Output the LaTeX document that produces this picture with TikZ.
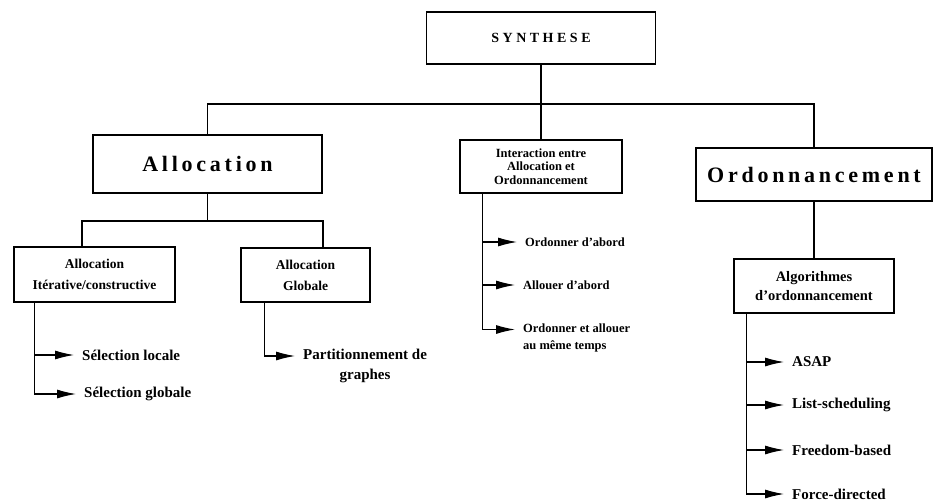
\documentclass[tikz,border=0pt]{standalone}
\usepackage{fontspec}
\setmainfont{Liberation Serif}
\newfontfamily\spacedfont[LetterSpace=17]{Liberation Serif}
\newfontfamily\widefont[LetterSpace=25]{Liberation Serif}
\usetikzlibrary{arrows.meta,positioning}
\tikzset{
  box/.style     ={draw,line width=1.1pt,align=center,inner sep=2pt,
                   font=\bfseries\fontsize{13.5}{21}\selectfont},
  titlebox/.style={box,font=\spacedfont\bfseries\fontsize{22}{24}\selectfont},
  leaf/.style    ={anchor=west,inner sep=0pt,align=left,
                   font=\bfseries\fontsize{15}{20}\selectfont},
  smleaf/.style  ={leaf,font=\bfseries\fontsize{12.5}{17}\selectfont},
  link/.style    ={line width=1.1pt},
  arr/.style     ={link,-{Latex[length=19pt,width=9pt]},shorten >=8pt},
}

\begin{document}
\begin{tikzpicture}[x=1pt,y=-1pt]
\useasboundingbox (0,0) rectangle (936,503);
% top level
\node[titlebox,minimum width=229,minimum height=52,
      font=\widefont\bfseries\fontsize{14}{16}\selectfont] (syn) at (541,38) {SYNTHESE};
\node[titlebox,minimum width=229,minimum height=58] (alloc) at (207.5,164) {Allocation};
\node[box,minimum width=162,minimum height=53,
      font=\bfseries\fontsize{12.5}{13.5}\selectfont] (inter) at (541,166.5)
  {Interaction entre\\Allocation et\\Ordonnancement};
\node[titlebox,minimum width=236,minimum height=53] (ordo) at (814,174.5) {Ordonnancement};
% second level
\node[box,minimum width=161,minimum height=55] (iter) at (94.5,274.5)
  {Allocation\\Itérative/constructive};
\node[box,minimum width=129,minimum height=54] (glob) at (305.5,275)
  {Allocation\\Globale};
\node[box,minimum width=160,minimum height=54,
      font=\bfseries\fontsize{14.5}{19}\selectfont] (algo) at (814,286)
  {Algorithmes\\d'ordonnancement};
% leaves
\node[leaf] (sl) at (82,355) {Sélection locale};
\node[leaf] (sg) at (84,394) {Sélection globale};
\node[leaf,align=center] (part) at (303,366) {Partitionnement de\\graphes};
\node[smleaf] (oab) at (525,242) {Ordonner d'abord};
\node[smleaf] (aab) at (523,285) {Allouer d'abord};
\node[smleaf] (oea) at (523,338) {Ordonner et allouer\\au même temps};
\node[leaf] (asap) at (792,362) {ASAP};
\node[leaf] (ls) at (792,405) {List-scheduling};
\node[leaf] (fb) at (792,450) {Freedom-based};
\node[leaf] (fd) at (792,494) {Force-directed};
% tree connectors
\coordinate (bus) at (541,104);
\coordinate (abus) at (207.5,221);
\draw[link] (syn.south) -- (inter.north);
\draw[link] (alloc.north) |- (bus) -| (ordo.north);
\draw[link] (alloc.south) -- (abus);
\draw[link] ([xshift=-12.5]iter.north) |- (abus) -| ([xshift=17.5]glob.north);
\draw[link] (ordo.south) -- (algo.north);
% trunks with arrows
\coordinate (itr) at ([xshift=21]iter.south west);
\coordinate (gtr) at ([xshift=24]glob.south west);
\coordinate (ntr) at ([xshift=23]inter.south west);
\coordinate (otr) at ([xshift=13]algo.south west);
\foreach \l in {sl,sg} \draw[arr] (itr) |- (\l.west);
\draw[arr] (gtr) |- ([yshift=10]part.west);
\foreach \l in {oab,aab} \draw[arr] (ntr) |- (\l.west);
\draw[arr] (ntr) |- ([yshift=8.5]oea.west);
\foreach \l in {asap,ls,fb,fd} \draw[arr] (otr) |- (\l.west);
\end{tikzpicture}
\end{document}
